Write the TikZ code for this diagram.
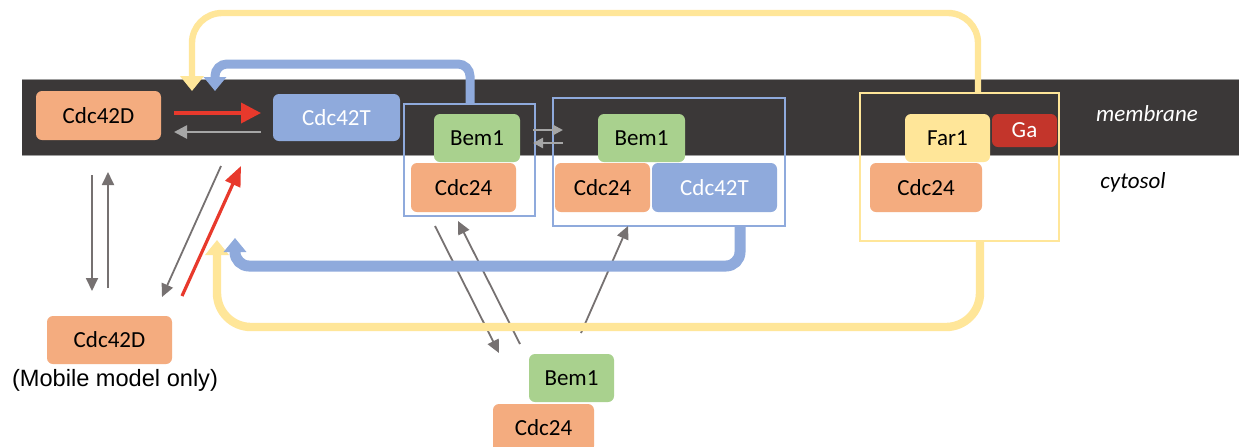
\documentclass[tikz,border=0pt]{standalone}
\usepackage{fontspec}
\setmainfont{Carlito}
\newfontfamily\arialf{Liberation Sans}
\usetikzlibrary{arrows.meta}
\definecolor{cOr}{HTML}{F4AC7F}
\definecolor{cBl}{HTML}{8FAADC}
\definecolor{cGr}{HTML}{A9D18E}
\definecolor{cYe}{HTML}{FFE699}
\definecolor{cGa}{HTML}{C3352B}
\definecolor{cRed}{HTML}{E8392C}
\definecolor{cGray}{HTML}{767171}
\definecolor{cLGray}{HTML}{A6A6A6}
\definecolor{cBand}{HTML}{3B3838}
\begin{document}
\begin{tikzpicture}[x=0.5pt,y=-0.5pt,
  prot/.style={rounded corners=3pt, inner sep=0pt, font=\fontsize{11.5}{13}\selectfont, text=black, draw=none},
  orangep/.style={prot, fill=cOr},
  bluep/.style={prot, fill=cBl, text=white},
  greenp/.style={prot, fill=cGr},
  yellowp/.style={prot, fill=cYe},
  gap/.style={prot, fill=cGa, text=white},
  cplx/.style={draw=cBl, line width=0.8pt, inner sep=0pt},
  cplxy/.style={draw=cYe, line width=1.1pt, inner sep=0pt},
  grayarr/.style={draw=cGray, line width=0.9pt, -{Triangle[length=6.5pt,width=6pt]}},
  bandarr/.style={draw=cLGray, line width=1.1pt, -{Triangle[length=5pt,width=5pt]}},
  redarr/.style={draw=cRed, line width=1.8pt, -{Triangle[length=10pt,width=10pt]}},
  bluearr/.style={draw=cBl, line cap=butt, -{Triangle[length=7pt,width=11pt]}},
  yelarr/.style={draw=cYe, line cap=butt, -{Triangle[length=7.5pt,width=11.5pt]}},
]
\clip (0,0) rectangle (1239,446);
\useasboundingbox (0,0) rectangle (1239,446);
\fill[white] (0,0) rectangle (1239,446);

% membrane band
\fill[cBand] (22,79) rectangle (1239,155);
\draw[gray!75, line width=0.5pt] (22,79) -- (1239,79);
\draw[gray!75, line width=0.5pt] (22,155) -- (1239,155);

% complex boxes
\node[cplx, minimum width=65.5pt, minimum height=56pt] (box1) at (469.5,160) {};
\node[cplx, minimum width=116pt, minimum height=64pt] (box2) at (669,162) {};
\node[cplxy, minimum width=99.5pt, minimum height=74pt] (box3) at (959.5,167) {};

% proteins
\node[orangep, minimum width=62.5pt, minimum height=24.5pt] (d1) at (98.5,115.5) {Cdc42D};
\node[bluep, minimum width=63.5pt, minimum height=23.5pt] (t1) at (336.5,117.5) {Cdc42T};
\node[greenp, minimum width=43pt, minimum height=24pt] (b1) at (477,138) {Bem1};
\node[orangep, minimum width=52.5pt, minimum height=24.5pt] (c1) at (463.5,187.5) {Cdc24};
\node[greenp, minimum width=43.5pt, minimum height=24pt] (b2) at (641.5,138) {Bem1};
\node[orangep, minimum width=47.5pt, minimum height=24.5pt] (c2) at (602.5,187.5) {Cdc24};
\node[bluep, minimum width=62.5pt, minimum height=24.5pt] (t2) at (714.5,187.5) {Cdc42T};
\node[yellowp, minimum width=42.5pt, minimum height=24pt] (f1) at (947.5,138) {Far1};
\node[gap, minimum width=32.5pt, minimum height=16.5pt] (ga) at (1024.5,130.5) {Ga};
\node[orangep, minimum width=56pt, minimum height=24.5pt] (c3) at (926,187.5) {Cdc24};
\node[orangep, minimum width=62.5pt, minimum height=24pt] (d2) at (109.5,340) {Cdc42D};
\node[greenp, minimum width=42.5pt, minimum height=24pt] (b3) at (571.5,378) {Bem1};
\node[orangep, minimum width=50.5pt, minimum height=24pt] (c4) at (543.5,428) {Cdc24};

% labels
\node[font=\fontsize{11.5}{13}\selectfont\itshape, text=white] (lm) at (1147,114) {membrane};
\node[font=\fontsize{11.5}{13}\selectfont\itshape, text=black] (lc) at (1133,182) {cytosol};
\node[font=\arialf\fontsize{11.8}{13}\selectfont, text=black] (lmo) at (115,380) {(Mobile model only)};

% endpoints
\coordinate (r1a) at (174,113); \coordinate (r1b) at (261,113);
\coordinate (g1a) at (261,132); \coordinate (g1b) at (174,132);
\coordinate (s1a) at (533,130); \coordinate (s1b) at (563,130);
\coordinate (s2a) at (563,143); \coordinate (s2b) at (533,143);
\coordinate (v1a) at (92,175);  \coordinate (v1b) at (92,291);
\coordinate (v2a) at (108,288); \coordinate (v2b) at (108,172);
\coordinate (dg1a) at (221,166); \coordinate (dg1b) at (162,297);
\coordinate (dr1a) at (182,296); \coordinate (dr1b) at (241,166);
\coordinate (e1a) at (435,226); \coordinate (e1b) at (499,353);
\coordinate (e2a) at (520,344); \coordinate (e2b) at (458,221);
\coordinate (e3a) at (581,333); \coordinate (e3b) at (628,226);
\coordinate (ytip) at (192,91);
\coordinate (btip) at (215,91);
\coordinate (btip2) at (235,238);
\coordinate (ytip2) at (217,240);

% connectors
\draw[redarr] (r1a) -- (r1b);
\draw[bandarr, line width=1.3pt, -{Triangle[length=6.5pt,width=6.5pt]}] (g1a) -- (g1b);
\draw[bandarr] (s1a) -- (s1b);
\draw[bandarr] (s2a) -- (s2b);
\draw[grayarr] (v1a) -- (v1b);
\draw[grayarr] (v2a) -- (v2b);
\draw[grayarr] (dg1a) -- (dg1b);
\draw[redarr, line width=1.6pt, -{Triangle[length=10pt,width=8pt]}] (dr1a) -- (dr1b);
\draw[grayarr] (e1a) -- (e1b);
\draw[grayarr] (e2a) -- (e2b);
\draw[grayarr] (e3a) -- (e3b);

% feedback loops
\draw[yelarr, line width=3.2pt, rounded corners=15pt] (box3.north -| 978,0) -- (978,13) -- (192,13) -- (ytip);
\draw[bluearr, line width=4.5pt, rounded corners=6pt] (box1.north -| 470,0) -- (470,64) -- (215,64) -- (btip);
\draw[yelarr, line width=4.2pt, rounded corners=17pt] (box3.south -| 980,0) -- (980,327) -- (217,327) -- (ytip2);
\draw[bluearr, line width=5.5pt, rounded corners=7pt] (box2.south -| 740,0) -- (740,266) -- (235,266) -- (btip2);
\end{tikzpicture}
\end{document}
